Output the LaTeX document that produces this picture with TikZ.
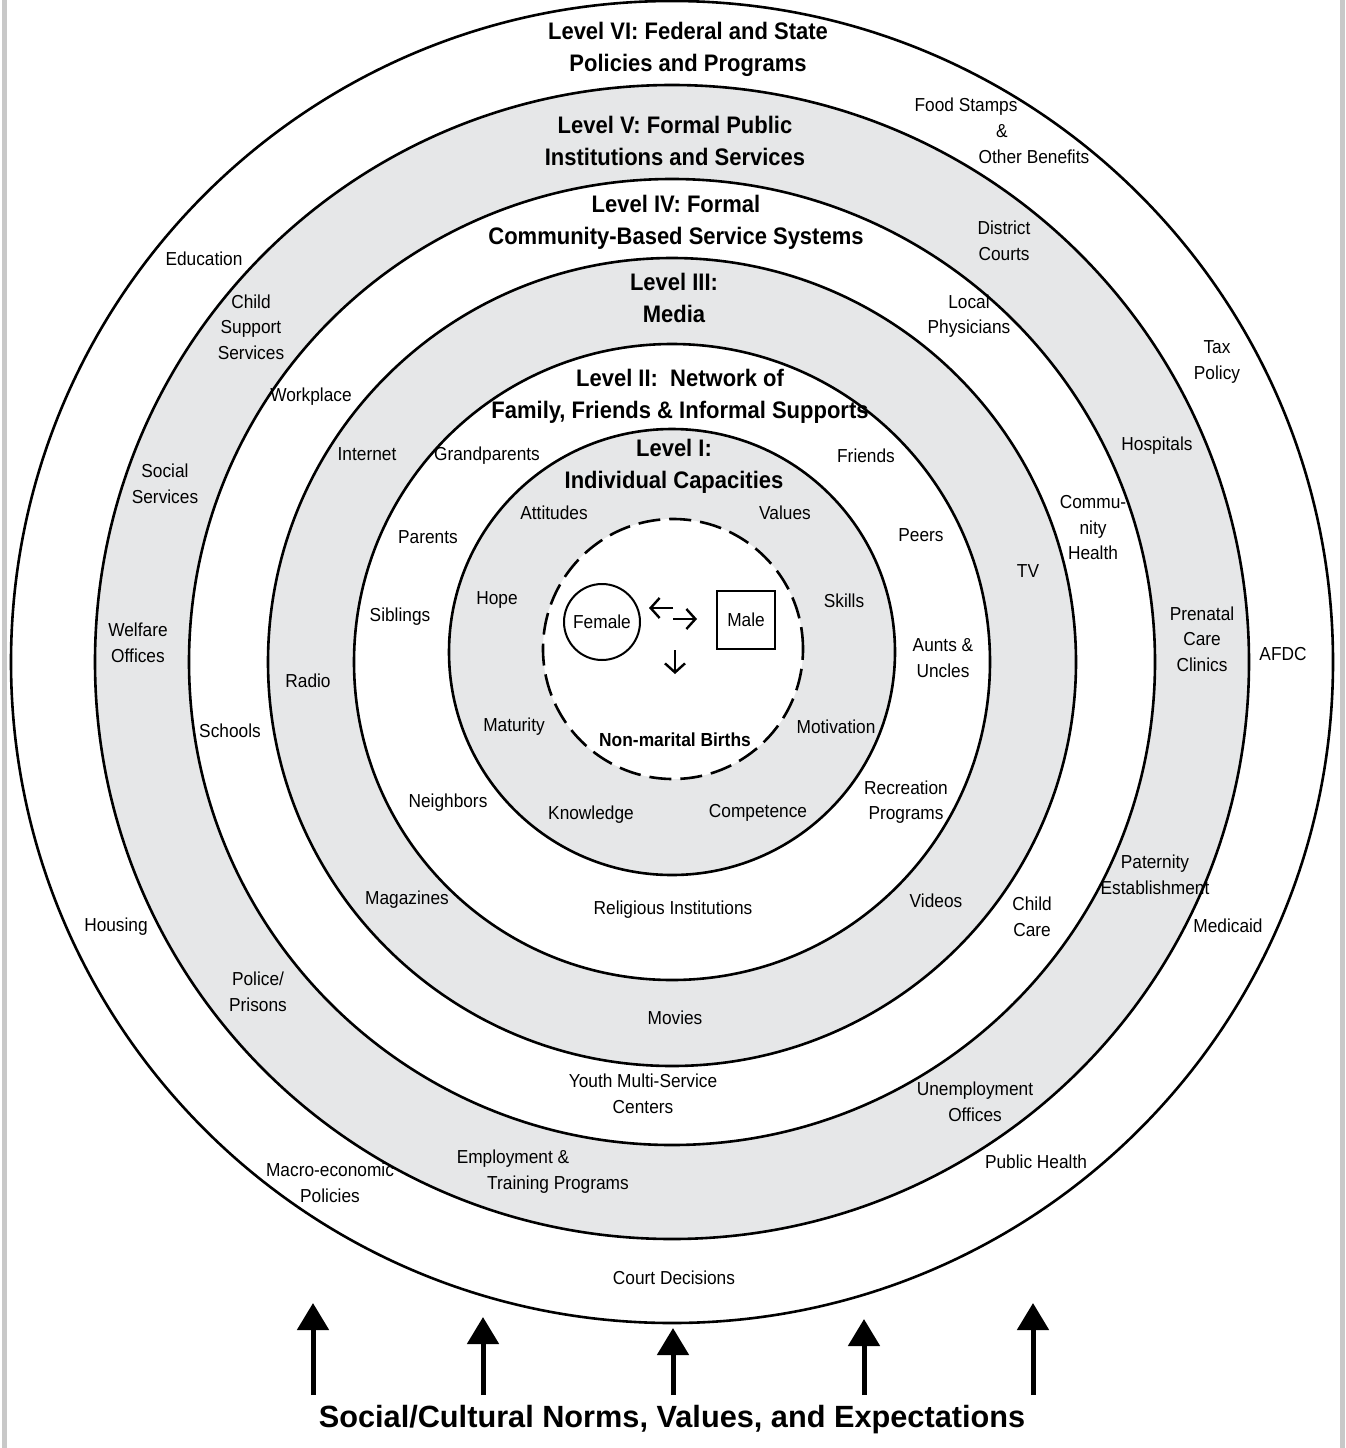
\documentclass[tikz,border=0pt]{standalone}
\usepackage{fontspec}
\setmainfont{Liberation Sans}[FakeStretch=0.92]
\newfontfamily\normsfont{Liberation Sans}
\usepackage{tikz}
\usetikzlibrary{arrows.meta}
\usepackage{xcolor}
\definecolor{ringgray}{RGB}{230,231,232}
\definecolor{framegray}{RGB}{200,200,200}
\tikzstyle{ring}  = [draw=black, line width=2.6pt]
\tikzstyle{lab}   = [align=center, inner sep=0pt, font=\fontsize{18.8}{25.5}\selectfont]
\tikzstyle{level} = [align=center, inner sep=0pt, font=\fontsize{23.9}{32}\selectfont\bfseries]
\tikzstyle{norm}  = [line width=5pt, -{Triangle[length=27pt,width=31pt]}]
\tikzstyle{pair}  = [line width=2.4pt, -{Straight Barb[length=9pt,width=20pt]}]

\begin{document}
\begin{tikzpicture}[x=1pt, y=-1pt]
  \useasboundingbox (0,0) rectangle (1345,1448);
  \fill[framegray] (2,0) rectangle (7,1448);
  \fill[framegray] (1340,0) rectangle (1345,1448);

  % Rings
  \coordinate (ctr) at (672,662);
  \coordinate (core) at (672,652);
  \draw[ring, fill=white]    (ctr) circle (661pt);
  \draw[ring, fill=ringgray] (ctr) circle (577pt);
  \draw[ring, fill=white]    (ctr) circle (483pt);
  \draw[ring, fill=ringgray] (ctr) circle (404pt);
  \draw[ring, fill=white]    (ctr) circle (318pt);
  \draw[ring, fill=ringgray] (core) circle (223pt);
  \draw[line width=2.6pt, dash pattern=on 22pt off 9pt, fill=white] (673,649) circle (130pt);

  % Level titles
  \node[level] (lvsix)   at (688,49)  {Level VI: Federal and State\\Policies and Programs};
  \node[level] (lvfive)  at (675,141) {Level V: Formal Public\\Institutions and Services};
  \node[level] (lvfour)  at (676,222) {Level IV: Formal\\Community-Based Service Systems};
  \node[level] (lvthree) at (674,298) {Level III:\\Media};
  \node[level] (lvtwo)   at (680,396) {Level II:\ \ Network of\\Family, Friends \& Informal Supports};
  \node[level] (lvone)   at (674,466) {Level I:\\Individual Capacities};

  % Level VI - policies
  \node[lab] (food1) at (966,107) {Food Stamps};
  \node[lab] (food2) at (1002,131) {\&};
  \node[lab] (food3) at (1034,157) {Other Benefits};
  \node[lab] (edu)   at (204,259) {Education};
  \node[lab] (tax)   at (1217,362) {Tax\\Policy};
  \node[lab] (afdc)  at (1283,654) {AFDC};
  \node[lab] (house) at (116,927) {Housing};
  \node[lab] (mcaid) at (1228,926) {Medicaid};
  \node[lab] (macro) at (330,1183) {Macro-economic\\Policies};
  \node[lab] (pubh)  at (1036,1162) {Public Health};
  \node[lab] (court) at (674,1278) {Court Decisions};

  % Level V - public institutions
  \node[lab] (child) at (251,327) {Child\\Support\\Services};
  \node[lab] (dist)  at (1004,241) {District\\Courts};
  \node[lab] (hosp)  at (1157,446) {Hospitals};
  \node[lab] (socs)  at (165,484) {Social\\Services};
  \node[lab] (prena) at (1202,639) {Prenatal\\Care\\Clinics};
  \node[lab] (welf)  at (138,643) {Welfare\\Offices};
  \node[lab] (pater) at (1155,875) {Paternity\\Establishment};
  \node[lab] (police) at (258,992) {Police/\\Prisons};
  \node[lab] (unemp) at (975,1102) {Unemployment\\Offices};
  \node[lab] (empl1) at (513,1159) {Employment \&};
  \node[lab] (empl2) at (558,1185) {Training Programs};

  % Level IV - community services
  \node[lab] (phys)  at (969,316) {Local\\Physicians};
  \node[lab] (work)  at (311,397) {Workplace};
  \node[lab] (comm)  at (1093,528) {Commu-\\nity\\Health};
  \node[lab] (school) at (230,731) {Schools};
  \node[lab] (care)  at (1032,917) {Child\\Care};
  \node[lab] (youth) at (643,1094) {Youth Multi-Service\\Centers};

  % Level III - media
  \node[lab] (inet)  at (367,454) {Internet};
  \node[lab] (tv)    at (1028,571) {TV};
  \node[lab] (radio) at (308,681) {Radio};
  \node[lab] (mags)  at (407,900) {Magazines};
  \node[lab] (video) at (936,901) {Videos};
  \node[lab] (movie) at (675,1018) {Movies};

  % Level II - informal supports
  \node[lab] (grand) at (487,456) {Grandparents};
  \node[lab] (frnd)  at (866,456) {Friends};
  \node[lab] (par)   at (428,537) {Parents};
  \node[lab] (peer)  at (921,535) {Peers};
  \node[lab] (sibl)  at (400,617) {Siblings};
  \node[lab] (aunt)  at (943,658) {Aunts \&\\Uncles};
  \node[lab] (recr)  at (906,802) {Recreation\\Programs};
  \node[lab] (neigh) at (448,803) {Neighbors};
  \node[lab] (relig) at (673,910) {Religious Institutions};

  % Level I - capacities
  \node[lab] (att)   at (554,513) {Attitudes};
  \node[lab] (val)   at (785,513) {Values};
  \node[lab] (hope)  at (497,600) {Hope};
  \node[lab] (skill) at (844,601) {Skills};
  \node[lab] (matur) at (514,727) {Maturity};
  \node[lab] (motiv) at (836,727) {Motivation};
  \node[lab] (know)  at (591,815) {Knowledge};
  \node[lab] (compet) at (758,813) {Competence};

  % Core
  \node[lab, circle, draw, line width=2pt, minimum size=76pt] (female) at (602,622) {Female};
  \node[lab, draw, line width=2pt, minimum size=58pt] (male) at (746,620) {Male};
  \node[lab, font=\fontsize{18.9}{20}\selectfont\bfseries] (births) at (675,740) {Non-marital Births};
  \coordinate (tofemA) at (673,608);
  \coordinate (tofemB) at (649,608);
  \coordinate (tomalA) at (673,619);
  \coordinate (tomalB) at (697,619);
  \coordinate (downA)  at (675,650);
  \coordinate (downB)  at (675,674);
  \draw[pair] (tofemA) -- (tofemB);
  \draw[pair] (tomalA) -- (tomalB);
  \draw[pair] (downA) -- (downB);

  % Norms
  \coordinate (nA0) at (313,1395);  \coordinate (nA1) at (313,1303);
  \coordinate (nB0) at (483,1395);  \coordinate (nB1) at (483,1317);
  \coordinate (nC0) at (673,1395);  \coordinate (nC1) at (673,1328);
  \coordinate (nD0) at (864,1395);  \coordinate (nD1) at (864,1319);
  \coordinate (nE0) at (1033,1395); \coordinate (nE1) at (1033,1303);
  \draw[norm] (nA0) -- (nA1);
  \draw[norm] (nB0) -- (nB1);
  \draw[norm] (nC0) -- (nC1);
  \draw[norm] (nD0) -- (nD1);
  \draw[norm] (nE0) -- (nE1);
  \node[inner sep=0pt, font=\normsfont\fontsize{30.7}{34}\selectfont\bfseries] (norms) at (672,1420) {Social/Cultural Norms, Values, and Expectations};

\end{tikzpicture}
\end{document}
